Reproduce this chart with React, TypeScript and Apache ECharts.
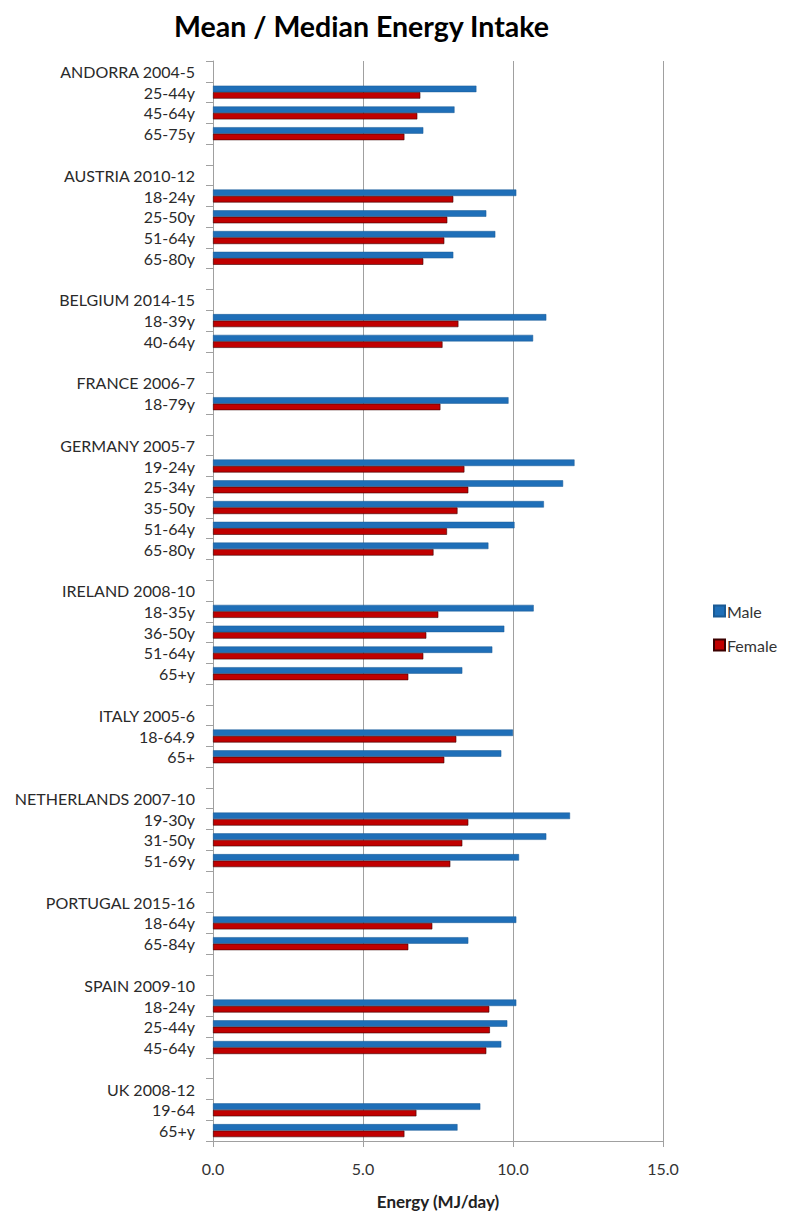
import React, { useEffect, useRef } from "react";
import * as echarts from "echarts";

const categories: string[] = [
  "ANDORRA 2004-5", "25-44y", "45-64y", "65-75y", "",
  "AUSTRIA 2010-12", "18-24y", "25-50y", "51-64y", "65-80y", "",
  "BELGIUM 2014-15", "18-39y", "40-64y", "",
  "FRANCE 2006-7", "18-79y", "",
  "GERMANY 2005-7", "19-24y", "25-34y", "35-50y", "51-64y", "65-80y", "",
  "IRELAND 2008-10", "18-35y", "36-50y", "51-64y", "65+y", "",
  "ITALY 2005-6", "18-64.9", "65+", "",
  "NETHERLANDS 2007-10", "19-30y", "31-50y", "51-69y", "",
  "PORTUGAL 2015-16", "18-64y", "65-84y", "",
  "SPAIN 2009-10", "18-24y", "25-44y", "45-64y", "",
  "UK 2008-12", "19-64", "65+y",
];

const male: (number | null)[] = [
  null, 8.78, 8.05, 7.01, null,
  null, 10.11, 9.11, 9.41, 8.01, null,
  null, 11.11, 10.67, null,
  null, 9.85, null,
  null, 12.05, 11.67, 11.03, 10.05, 9.18, null,
  null, 10.69, 9.71, 9.31, 8.31, null,
  null, 10.0, 9.61, null,
  null, 11.9, 11.11, 10.2, null,
  null, 10.11, 8.51, null,
  null, 10.11, 9.81, 9.61, null,
  null, 8.91, 8.15,
];

const female: (number | null)[] = [
  null, 6.91, 6.81, 6.38, null,
  null, 8.01, 7.81, 7.71, 7.01, null,
  null, 8.18, 7.65, null,
  null, 7.58, null,
  null, 8.38, 8.51, 8.15, 7.8, 7.35, null,
  null, 7.51, 7.11, 7.01, 6.51, null,
  null, 8.11, 7.71, null,
  null, 8.51, 8.31, 7.91, null,
  null, 7.31, 6.51, null,
  null, 9.21, 9.23, 9.11, null,
  null, 6.78, 6.38,
];

const xTicks = { min: 0, max: 15, interval: 5 };

const FONT = "Lato, 'Open Sans', sans-serif";

export default function App() {
  const ref = useRef<HTMLDivElement>(null);
  useEffect(() => {
    if (!ref.current) return;
    const chart = echarts.init(ref.current, undefined, { renderer: "svg" });
    chart.setOption({
      animation: false,
      title: {
        text: "Mean / Median Energy Intake",
        left: 169,
        top: 6,
        textStyle: { fontFamily: FONT, fontSize: 28.5, fontWeight: "bold", color: "#000" },
      },
      legend: {
        orient: "vertical",
        left: 708,
        top: 598,
        itemWidth: 11,
        itemHeight: 11,
        itemGap: 18,
        icon: "rect",
        textStyle: { fontFamily: FONT, fontSize: 16, color: "#333", padding: [0, 0, 0, -3] },
        data: ["Male", "Female"],
      },
      grid: { left: 213, right: 127, top: 61, bottom: 73, containLabel: false },
      xAxis: {
        type: "value",
        min: xTicks.min,
        max: xTicks.max,
        interval: xTicks.interval,
        name: "Energy (MJ/day)",
        nameLocation: "middle",
        nameGap: 52,
        nameTextStyle: { fontFamily: FONT, fontSize: 17, fontWeight: "bold", color: "#222" },
        axisLine: { show: true, lineStyle: { color: "#a0a0a0", width: 1 } },
        axisTick: { show: true, length: 6, lineStyle: { color: "#a0a0a0" } },
        axisLabel: {
          fontFamily: FONT,
          fontSize: 16,
          color: "#333",
          margin: 19,
          formatter: (v: number) => v.toFixed(1),
        },
        splitLine: { show: true, lineStyle: { color: "#a0a0a0", width: 1 } },
      },
      yAxis: {
        type: "category",
        inverse: true,
        data: categories,
        axisLine: { show: true, lineStyle: { color: "#a0a0a0", width: 1 } },
        axisTick: { show: true, length: 7, lineStyle: { color: "#a0a0a0" } },
        axisLabel: {
          fontFamily: FONT,
          fontSize: 16,
          color: "#2a2a2a",
          margin: 18,
          interval: 0,
        },
      },
      series: [
        {
          name: "Male",
          type: "bar",
          data: male,
          barWidth: 6.5,
          barGap: "0%",
          itemStyle: { color: "#1F6FB8", borderColor: "#1a5a94", borderWidth: 0.5 },
        },
        {
          name: "Female",
          type: "bar",
          data: female,
          barWidth: 6.5,
          barGap: "0%",
          itemStyle: { color: "#C00000", borderColor: "#3a0000", borderWidth: 0.6 },
        },
      ],
    });
    return () => chart.dispose();
  }, []);
  return (
    <div
      ref={ref}
      style={{ position: "absolute", left: 0, top: 0, width: 790, height: 1215 }}
    />
  );
}
